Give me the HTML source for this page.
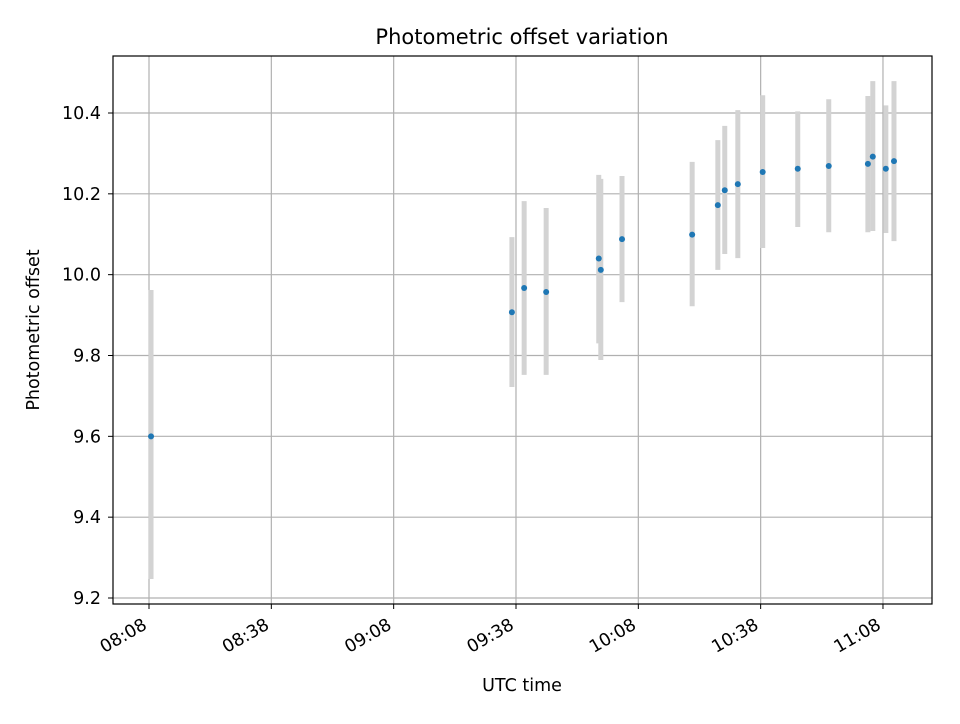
<!DOCTYPE html>
<html><head><meta charset="utf-8"><style>
body{margin:0;background:#fff;font-family:"DejaVu Sans","Liberation Sans",sans-serif}
</style></head><body>
<svg id="chart" width="960" height="720" xmlns="http://www.w3.org/2000/svg" font-family="DejaVu Sans, Liberation Sans, sans-serif">
<rect width="960" height="720" fill="#fff"/>
<g id="grid"></g>
<g id="bars"></g>
<g id="pts"></g>
<rect x="113" y="56" width="819" height="548" fill="none" stroke="#000" stroke-width="1.2"/>
<g id="ticks"></g>
<text x="522" y="44" text-anchor="middle" font-size="21">Photometric offset variation</text>
<text x="522" y="691" text-anchor="middle" font-size="17.5">UTC time</text>
<text transform="translate(39,330) rotate(-90)" text-anchor="middle" font-size="17.5">Photometric offset</text>
</svg>
<script>
const minutes=[0.5,89,92,97.4,110.3,110.8,116,133.2,139.5,141.2,144.4,150.5,159.1,166.7,176.3,177.5,180.7,182.7];
const offsets=[9.60,9.907,9.967,9.957,10.04,10.012,10.088,10.099,10.172,10.209,10.224,10.254,10.262,10.269,10.274,10.292,10.262,10.281];
const errLow=[9.247,9.722,9.752,9.752,9.83,9.789,9.932,9.922,10.012,10.051,10.041,10.066,10.118,10.105,10.105,10.108,10.103,10.083];
const errHigh=[9.962,10.093,10.182,10.165,10.247,10.237,10.244,10.279,10.333,10.368,10.407,10.444,10.404,10.434,10.442,10.479,10.419,10.479];
const xTickMin=[0,30,60,90,120,150,180];
const xTickLabels=["08:08","08:38","09:08","09:38","10:08","10:38","11:08"];
const yTicks=[9.2,9.4,9.6,9.8,10.0,10.2,10.4];
const NS="http://www.w3.org/2000/svg";
const X=m=>149+m*(122.33/30);
const Y=v=>598-(v-9.2)*(485/1.2);
function mk(t,a,p){const e=document.createElementNS(NS,t);for(const k in a)e.setAttribute(k,a[k]);p.appendChild(e);return e;}
const grid=document.getElementById('grid'),ticks=document.getElementById('ticks'),bars=document.getElementById('bars'),pts=document.getElementById('pts');
xTickMin.forEach((m,i)=>{const x=X(m);
 const g=mk('line',{x1:x,x2:x,y1:56,y2:604,stroke:'#b0b0b0','stroke-width':1.2},grid);
 
 const t=mk('line',{x1:x,x2:x,y1:604,y2:609,stroke:'#000'},ticks);
 
 const lx=x-1,ly=628;
 const l=mk('text',{x:lx,y:ly,'text-anchor':'end','font-size':17.5,transform:`rotate(-30 ${lx} ${ly})`},ticks);
 l.textContent=xTickLabels[i];
 });
yTicks.forEach(v=>{const y=Y(v);
 const g=mk('line',{x1:113,x2:932,y1:y,y2:y,stroke:'#b0b0b0','stroke-width':1.2},grid);
 
 const t=mk('line',{x1:108,x2:113,y1:y,y2:y,stroke:'#000'},ticks);
 
 const l=mk('text',{x:101,y:y+6,'text-anchor':'end','font-size':17.5},ticks);
 l.textContent=v.toFixed(1);
 });
minutes.forEach((m,i)=>{const x=X(m);
 const b=mk('line',{x1:x,x2:x,y1:Y(errLow[i]),y2:Y(errHigh[i]),stroke:'#d3d3d3','stroke-width':5},bars);
 
 const c=mk('circle',{cx:x,cy:Y(offsets[i]),r:3,fill:'#1f77b4'},pts);
 });
</script>
</body></html>
